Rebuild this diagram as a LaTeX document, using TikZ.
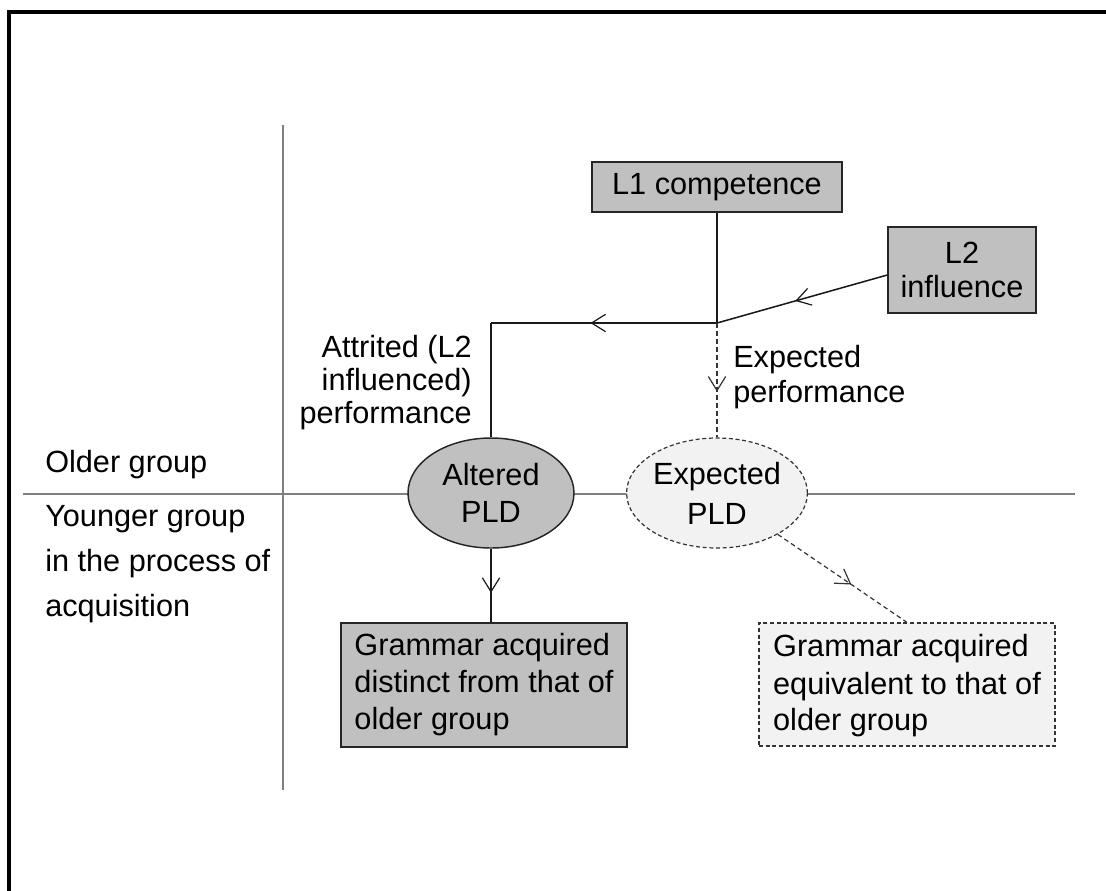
\documentclass[tikz,border=0pt]{standalone}
\usepackage{fontspec}
\setmainfont{Liberation Sans}
\usetikzlibrary{shapes.geometric,arrows.meta,decorations.markings}
\definecolor{boxgray}{HTML}{C0C0C0}
\definecolor{lightfill}{HTML}{F2F2F2}
\definecolor{axisgray}{HTML}{808080}
\begin{document}
\begin{tikzpicture}[x=0.75pt,y=-0.75pt,
  txt/.style={font=\fontsize{23}{#1}\selectfont, inner sep=0pt},
  txt/.default=27,
  solidbox/.style={draw=black!85, line width=1.1pt, fill=boxgray, rectangle, inner sep=0pt},
  dashbox/.style={draw=black!80, line width=0.9pt, dash pattern=on 3pt off 2pt, fill=lightfill, rectangle, inner sep=0pt},
  conn/.style={line width=1.15pt, draw=black!90},
  dconn/.style={line width=0.9pt, draw=black!80, dash pattern=on 3.5pt off 2.5pt},
  axis/.style={line width=0.8pt, draw=axisgray},
  midarrow/.style={postaction={decorate}, decoration={markings, mark=at position #1 with {\arrow{Straight Barb[length=10.5pt,width=13pt,line width=0.9pt]}}}}
]
\useasboundingbox (0,0) rectangle (1106,890);
% outer frame
\draw[line width=2.4pt] (9,895) -- (9,12) -- (1112,12);
% axes
\draw[axis] (283,125) -- (283,790);
\draw[axis] (23,494) -- (1075,494);

% boxes
\node[solidbox, txt, minimum width=187.5pt, minimum height=37.5pt] (l1) at (717,187) {L1 competence};
\node[solidbox, txt=25.5, align=center, minimum width=111pt, minimum height=64.5pt] (l2) at (962,270) {L2\\influence};
\coordinate (j) at (717,323);
\coordinate (corner) at (491,323);

\node[ellipse, draw=black!85, line width=1.1pt, fill=boxgray, txt=27.75, align=center, minimum width=124.5pt, minimum height=82.5pt] (alt) at (491,493) {Altered\\PLD};
\node[ellipse, draw=black!80, line width=0.9pt, dash pattern=on 3pt off 2pt, fill=lightfill, txt=30, align=center, minimum width=124.5pt, minimum height=82.5pt] (exp) at (717,493) {Expected\\PLD};

\node[solidbox, txt=27.75, align=left, minimum width=214.5pt, minimum height=93pt] (gd) at (484,685) {Grammar acquired\\distinct from that of\\older group};
\node[dashbox, txt=27.75, align=left, minimum width=222pt, minimum height=92.25pt] (ge) at (907,684.5) {\rule{0pt}{19pt}Grammar acquired\\equivalent to that of\\older group};

% labels
\node[txt, anchor=base west] (older) at (45,472) {Older group};
\node[txt=33.75, anchor=west, align=left] (younger) at (45,564) {Younger group\\in the process of\\acquisition};
\node[txt=24.75, anchor=east, align=right] (attr) at (472,383) {Attrited (L2\\influenced)\\performance};
\node[txt=26.25, anchor=west, align=left] (expperf) at (733,377) {Expected\\performance};

% connectors
\draw[conn] (l1.south) -- (j);
\draw[conn, midarrow=0.54] ([yshift=-3.75pt]l2.west) -- (j);
\draw[conn, midarrow=0.56] (j) -- (corner);
\draw[conn] (corner) -- (alt.north);
\draw[dconn, midarrow=0.6] (j) -- (exp.north);
\draw[conn, midarrow=0.6] (alt.south) -- (alt.south |- gd.north);
\draw[dconn, midarrow=0.57] (exp) -- (ge.north);
\end{tikzpicture}
\end{document}
